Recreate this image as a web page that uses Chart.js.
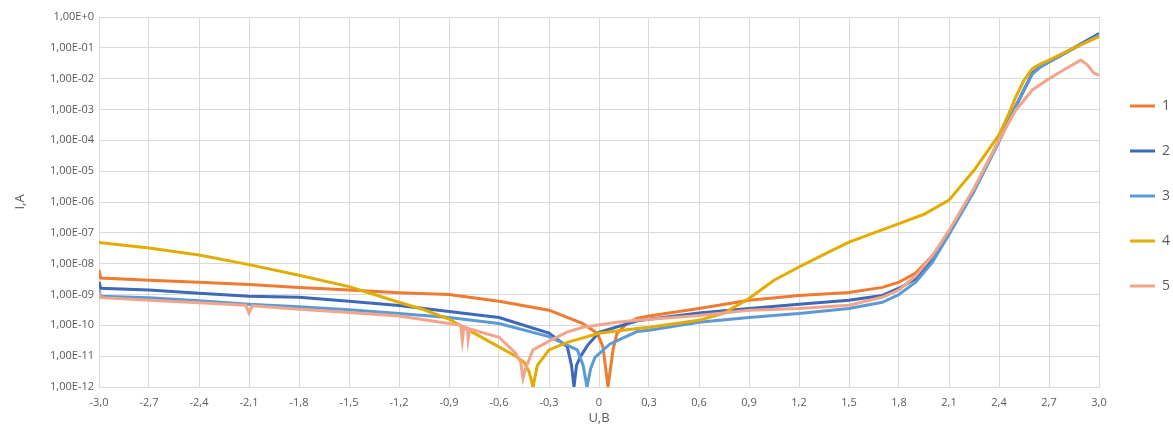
<!DOCTYPE html>
<html>
<head>
<meta charset="utf-8">
<script src="https://cdn.jsdelivr.net/npm/chart.js@4"></script>
<style>
  body { margin: 0; background: #fff; }
  #wrap { width: 1173px; height: 426px; }
</style>
</head>
<body>
<div id="wrap"><canvas id="ivChart"></canvas></div>
<script>
// series names
const seriesNames = ["1", "2", "3", "4", "5"];

// voltage (V) and current (A) for each curve
const v1 = [-3.0, -2.99, -2.7, -2.4, -2.1, -1.8, -1.5, -1.2, -0.9, -0.6, -0.3, -0.1, -0.01, 0.024, 0.054, 0.084, 0.108, 0.168, 0.23, 0.3, 0.6, 0.9, 1.2, 1.5, 1.7, 1.8, 1.9, 2.0, 2.1, 2.25, 2.4, 2.5, 2.6, 2.65, 2.7, 2.85, 3.0];
const i1 = [6.2e-9, 3.4e-9, 2.9e-9, 2.5e-9, 2.1e-9, 1.7e-9, 1.4e-9, 1.15e-9, 1.0e-9, 6.0e-10, 3.1e-10, 1.15e-10, 5.5e-11, 2.0e-11, 1.0e-12, 1.6e-11, 5.5e-11, 1.15e-10, 1.7e-10, 2.0e-10, 3.5e-10, 6.5e-10, 9.3e-10, 1.17e-9, 1.7e-9, 2.5e-9, 5.0e-9, 1.8e-8, 1.0e-7, 2.5e-6, 1.0e-4, 1.26e-3, 1.5e-2, 2.5e-2, 3.5e-2, 1.0e-1, 2.6e-1];

const v2 = [-3.0, -2.99, -2.7, -2.4, -2.1, -1.8, -1.5, -1.2, -0.9, -0.6, -0.3, -0.19, -0.165, -0.15, -0.135, -0.114, -0.07, 0.0, 0.23, 0.6, 0.9, 1.2, 1.5, 1.7, 1.8, 1.9, 2.0, 2.1, 2.25, 2.4, 2.5, 2.55, 2.6, 2.65, 2.7, 2.85, 3.0];
const i2 = [2.6e-9, 1.6e-9, 1.4e-9, 1.1e-9, 8.7e-10, 8.1e-10, 6.0e-10, 4.4e-10, 2.8e-10, 1.8e-10, 5.6e-11, 2.0e-11, 5.0e-12, 1.0e-12, 5.0e-12, 9.1e-12, 2.2e-11, 5.9e-11, 1.4e-10, 2.5e-10, 3.5e-10, 4.8e-10, 6.5e-10, 9.3e-10, 1.6e-9, 3.2e-9, 1.4e-8, 1.0e-7, 2.5e-6, 1.0e-4, 1.26e-3, 4.3e-3, 1.5e-2, 2.5e-2, 3.5e-2, 1.0e-1, 2.9e-1];

const v3 = [-3.0, -2.99, -2.7, -2.4, -2.1, -1.8, -1.5, -1.2, -0.9, -0.6, -0.3, -0.13, -0.095, -0.072, -0.05, -0.024, 0.066, 0.228, 0.3, 0.6, 0.9, 1.2, 1.5, 1.7, 1.8, 1.9, 2.0, 2.1, 2.25, 2.4, 2.5, 2.55, 2.6, 2.65, 2.7, 2.85, 3.0];
const i3 = [1.4e-9, 8.7e-10, 7.9e-10, 6.3e-10, 4.8e-10, 4.0e-10, 3.2e-10, 2.4e-10, 1.8e-10, 1.15e-10, 4.3e-11, 1.6e-11, 5.0e-12, 1.0e-12, 4.0e-12, 9.1e-12, 2.5e-11, 6.3e-11, 6.9e-11, 1.26e-10, 1.8e-10, 2.4e-10, 3.5e-10, 5.6e-10, 1.0e-9, 2.5e-9, 1.1e-8, 8.9e-8, 2.2e-6, 8.9e-5, 1.26e-3, 4.5e-3, 1.4e-2, 2.4e-2, 3.5e-2, 9.5e-2, 2.6e-1];

const v4 = [-3.0, -2.7, -2.4, -2.1, -1.8, -1.5, -1.2, -1.05, -0.9, -0.75, -0.6, -0.5, -0.45, -0.42, -0.396, -0.37, -0.3, -0.19, 0.0, 0.23, 0.3, 0.6, 0.75, 0.9, 1.05, 1.2, 1.35, 1.5, 1.65, 1.8, 1.95, 2.1, 2.25, 2.4, 2.45, 2.5, 2.55, 2.6, 2.65, 2.7, 2.85, 3.0];
const i4 = [4.9e-8, 3.2e-8, 1.9e-8, 9.3e-9, 4.2e-9, 1.8e-9, 5.6e-10, 3.2e-10, 1.6e-10, 5.6e-11, 2.0e-11, 1.0e-11, 6.3e-12, 3.2e-12, 1.0e-12, 5.0e-12, 1.6e-11, 2.8e-11, 5.5e-11, 7.9e-11, 8.7e-11, 1.45e-10, 2.5e-10, 7.4e-10, 2.9e-9, 7.8e-9, 2.0e-8, 5.0e-8, 1.0e-7, 2.0e-7, 4.0e-7, 1.15e-6, 1.07e-5, 1.5e-4, 5.6e-4, 2.5e-3, 8.9e-3, 2.1e-2, 3.0e-2, 4.0e-2, 1.0e-1, 2.3e-1];

const v5 = [-3.0, -2.99, -2.7, -2.4, -2.12, -2.1, -2.08, -1.8, -1.5, -1.2, -0.9, -0.83, -0.82, -0.81, -0.79, -0.785, -0.775, -0.6, -0.5, -0.47, -0.456, -0.44, -0.426, -0.396, -0.294, -0.192, -0.096, 0.108, 0.228, 0.6, 0.9, 1.2, 1.5, 1.7, 1.8, 1.9, 2.0, 2.1, 2.25, 2.4, 2.5, 2.6, 2.7, 2.8, 2.89, 2.93, 2.97, 3.0];
const i5 = [1.2e-9, 7.9e-10, 6.5e-10, 5.4e-10, 4.5e-10, 2.5e-10, 4.3e-10, 3.3e-10, 2.6e-10, 2.0e-10, 1.15e-10, 1.0e-10, 3.2e-11, 8.9e-11, 8.3e-11, 3.5e-11, 7.6e-11, 4.1e-11, 1.26e-11, 6.3e-12, 1.9e-12, 4.0e-12, 6.3e-12, 1.6e-11, 3.2e-11, 6.0e-11, 8.7e-11, 1.26e-10, 1.45e-10, 2.1e-10, 3.1e-10, 3.5e-10, 4.5e-10, 8.1e-10, 1.4e-9, 4.0e-9, 1.8e-8, 1.2e-7, 2.8e-6, 1.0e-4, 9.5e-4, 4.3e-3, 1.0e-2, 2.1e-2, 4.0e-2, 2.8e-2, 1.5e-2, 1.3e-2];

// axis ticks
const xTicks = [-3.0, -2.7, -2.4, -2.1, -1.8, -1.5, -1.2, -0.9, -0.6, -0.3, 0, 0.3, 0.6, 0.9, 1.2, 1.5, 1.8, 2.1, 2.4, 2.7, 3.0];
const xTickLabels = ["-3,0", "-2,7", "-2,4", "-2,1", "-1,8", "-1,5", "-1,2", "-0,9", "-0,6", "-0,3", "0", "0,3", "0,6", "0,9", "1,2", "1,5", "1,8", "2,1", "2,4", "2,7", "3,0"];
const yTicks = [1e-12, 1e-11, 1e-10, 1e-9, 1e-8, 1e-7, 1e-6, 1e-5, 1e-4, 1e-3, 1e-2, 1e-1, 1];
const yTickLabels = ["1,00E-12", "1,00E-11", "1,00E-10", "1,00E-09", "1,00E-08", "1,00E-07", "1,00E-06", "1,00E-05", "1,00E-04", "1,00E-03", "1,00E-02", "1,00E-01", "1,00E+0"];

const colors = ["#ee7b30", "#3e68b8", "#5b9bd5", "#e2ac00", "#f2a58a"];
const volts = [v1, v2, v3, v4, v5];
const currents = [i1, i2, i3, i4, i5];

const textColor = "#595959";
const gridColor = "#d9d9d9";

const datasets = seriesNames.map((name, k) => ({
  label: name,
  data: volts[k].map((v, j) => ({ x: v, y: currents[k][j] })),
  borderColor: colors[k],
  backgroundColor: colors[k],
  borderWidth: 3,
  pointRadius: 0,
  tension: 0,
  // later series are drawn on top
  order: seriesNames.length - 1 - k,
}));

const ctx = document.getElementById("ivChart").getContext("2d");
new Chart(ctx, {
  type: "line",
  data: { datasets },
  options: {
    responsive: true,
    maintainAspectRatio: false,
    animation: false,
    layout: { padding: { top: 17, left: 0, right: 0, bottom: 0 } },
    plugins: {
      tooltip: { enabled: false },
      legend: {
        position: "right",
        align: "start",
        maxWidth: 74,
        // empty title only used to push the items down
        title: { display: true, text: " ", font: { size: 10 }, padding: { top: 39, bottom: 0 } },
        labels: {
          usePointStyle: true,
          pointStyle: "line",
          pointStyleWidth: 25,
          padding: 31,
          color: textColor,
          font: { family: "'Open Sans', sans-serif", size: 14 },
          sort: (a, b) => a.datasetIndex - b.datasetIndex,
        },
      },
    },
    scales: {
      x: {
        type: "linear",
        min: -3,
        max: 3,
        afterBuildTicks: (scale) => { scale.ticks = xTicks.map(v => ({ value: v })); },
        afterFit: (scale) => { scale.height = 39; },
        grid: { color: gridColor, drawTicks: false },
        border: { color: gridColor },
        ticks: {
          padding: 9,
          maxRotation: 0,
          autoSkip: false,
          color: textColor,
          font: { family: "'Open Sans', sans-serif", size: 11 },
          callback: (value, index) => xTickLabels[index],
        },
        title: {
          display: true,
          text: "U,B",
          color: textColor,
          padding: { top: 0, bottom: 0 },
          font: { family: "'Open Sans', sans-serif", size: 13 },
        },
      },
      y: {
        type: "logarithmic",
        min: 1e-12,
        max: 1,
        afterBuildTicks: (scale) => { scale.ticks = yTicks.map(v => ({ value: v, major: true })); },
        afterFit: (scale) => { scale.width = 99; },
        grid: { color: gridColor, drawTicks: false },
        border: { color: gridColor },
        ticks: {
          padding: 5,
          autoSkip: false,
          color: textColor,
          font: { family: "'Open Sans', sans-serif", size: 11 },
          callback: (value, index) => yTickLabels[index],
        },
        title: {
          display: true,
          text: "I,A",
          color: textColor,
          padding: { top: 12, bottom: 0 },
          font: { family: "'Open Sans', sans-serif", size: 13 },
        },
      },
    },
  },
});
</script>
</body>
</html>
